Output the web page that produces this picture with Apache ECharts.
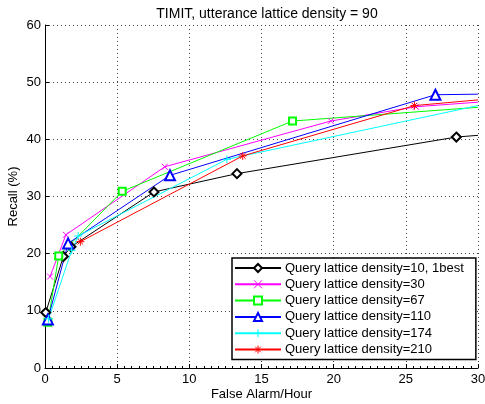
<!DOCTYPE html>
<html><head><meta charset="utf-8">
<script src="https://cdn.jsdelivr.net/npm/echarts@6/dist/echarts.min.js"></script>
<style>html,body{margin:0;padding:0;background:#fff}#c{width:485px;height:404px}</style>
</head><body><div id="c"></div>
<script>
const titleText = 'TIMIT, utterance lattice density = 90';
const xName = 'False Alarm/Hour';
const yName = 'Recall (%)';
const seriesNames = ['Query lattice density=10, 1best','Query lattice density=30','Query lattice density=67','Query lattice density=110','Query lattice density=174','Query lattice density=210'];
const d10  = [[0.05,9.7],[1.27,19.5],[1.8,21.2],[7.55,30.8],[13.3,34.0],[28.5,40.4],[30,40.7]];
const d30  = [[0.35,16.0],[1.45,23.3],[8.3,35.2],[19.8,43.2],[25.7,45.7],[30,46.5]];
const d67  = [[0.2,8.0],[0.95,19.6],[5.35,30.9],[17.15,43.2],[30,45.6]];
const d110 = [[0.2,8.5],[1.6,21.8],[8.66,33.7],[27.05,47.8],[30,47.9]];
const d174 = [[0.25,8.6],[1.85,20.6],[2.3,23.1],[12.6,36.5],[30,45.9]];
const d210 = [[2.45,22.1],[13.7,37.1],[25.6,45.9],[30,46.9]];
const seriesData = [d10,d30,d67,d110,d174,d210];
const colors = ['#000000','#ff00ff','#00ff00','#0000ff','#00ffff','#ff0000'];
const symbols = ['emptyDiamond','path://M0,0L10,10M10,0L0,10','emptyRect','emptyTriangle','path://M5,0L5,10M0,5L10,5','path://M5,0L5,10M0,5L10,5M1.5,1.5L8.5,8.5M8.5,1.5L1.5,8.5'];
const sizes = [9,6,7,10,8,8];

const font = 'Liberation Sans, Arial, Helvetica, sans-serif';
const chart = echarts.init(document.getElementById('c'));
const series = seriesData.map((d,i)=>({
  name: seriesNames[i], type:'line',
  data: d.map((p,j)=> j===d.length-1 ? {value:p, symbol:'none'} : p),
  symbol: symbols[i], symbolSize: sizes[i], showAllSymbol:true,
  lineStyle:{color:colors[i], width:1},
  itemStyle:{color: colors[i], borderColor:colors[i], borderWidth:1},
  emphasis:{disabled:true}, animation:false
}));
chart.setOption({
  animation:false,
  title:{text:titleText,left:262,textAlign:'center',top:2,textStyle:{fontFamily:font,fontSize:14,fontWeight:'normal',color:'#000'}},
  grid:{left:45,right:7,top:25,bottom:36,containLabel:false,outerBoundsMode:'none'},
  legend:{
    data: seriesNames,
    orient:'vertical', left:232, top:258,
    backgroundColor:'#fff', borderColor:'#000', borderWidth:1.5, borderRadius:0,
    padding:[3,12,3,2], itemGap:2.3, itemWidth:46, itemHeight:10,
    itemStyle:{borderWidth:1},
    textStyle:{fontFamily:font,fontSize:13,color:'#000',lineHeight:14, padding:[0,0,0,-1]}
  },
  xAxis:{type:'value',min:0,max:30,interval:5,
    name:xName,nameLocation:'middle',nameGap:20,nameMoveOverlap:false,nameTextStyle:{fontFamily:font,fontSize:13,color:'#000',verticalAlign:'top'},
    axisLine:{show:true,lineStyle:{color:'#000',width:1}},
    axisTick:{show:true,inside:true,length:4,lineStyle:{color:'#000'}},
    minorTick:{show:true,splitNumber:10,length:2,lineStyle:{color:'#000'}},
    axisLabel:{fontFamily:font,fontSize:13,color:'#000',margin:5},
    splitLine:{show:true,lineStyle:{color:'#444',type:[1,3],width:1}}
  },
  yAxis:{type:'value',min:0,max:60,interval:10,
    name:yName,nameLocation:'middle',nameGap:25,nameMoveOverlap:false,nameTextStyle:{fontFamily:font,fontSize:13,color:'#000'},
    axisLine:{show:true,lineStyle:{color:'#000',width:1}},
    axisTick:{show:true,inside:true,length:4,lineStyle:{color:'#000'}},
    axisLabel:{fontFamily:font,fontSize:13,color:'#000',margin:4},
    splitLine:{show:true,lineStyle:{color:'#444',type:[1,3],width:1}}
  },
  series
});
</script></body></html>
